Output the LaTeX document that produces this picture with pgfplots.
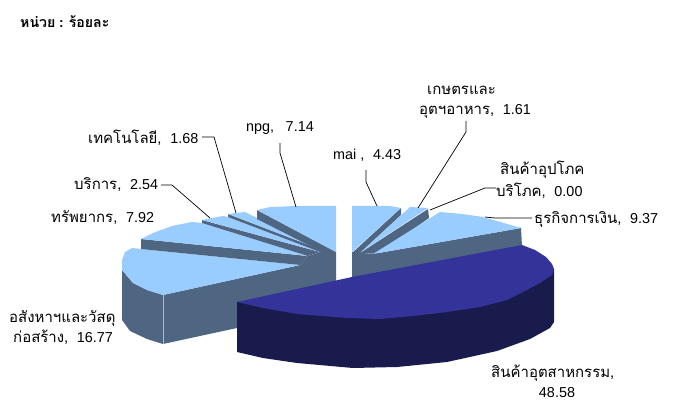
\documentclass[border=0pt]{standalone}
\usepackage{pgfplots}
\pgfplotsset{compat=1.18}
\usepackage{fontspec}
\setmainfont{Liberation Sans}
\newfontfamily\thaifont[Script=Thai,Scale=1.04]{Loma}
\newcommand{\tha}[1]{{\thaifont #1}}
\newcommand{\gap}{\hspace{0.6em}}
\definecolor{lightblue}{HTML}{99CCFF}
\definecolor{wallblue}{HTML}{4F6682}
\definecolor{navytop}{HTML}{333399}
\definecolor{navywall}{HTML}{1A1B4D}
\pgfplotsset{
  top/.style={fill=lightblue,draw=none},
  wall/.style={fill=wallblue,draw=none},
  leader/.style={draw=black,line width=0.7pt},
}
\tikzset{lab/.style={inner sep=0pt,anchor=west,font=\fontsize{14.4}{17}\selectfont}}
\begin{document}
\begin{tikzpicture}
\begin{axis}[
    scale only axis,
    width=683pt, height=406pt,
    xmin=0, xmax=683, ymin=0, ymax=406,
    y dir=reverse,
    hide axis,
    clip=false,
    no markers,
]
% keep the whole canvas in the bounding box
\path (axis cs:0,0) rectangle (axis cs:683,406);
% left block walls
\addplot[wall] coordinates {(122,258) (122,270) (133,283) (147,290) (163,295) (163,344) (147,339) (130,331) (122,320)};
\addplot[wall] coordinates {(163,295) (300,265) (308,256) (320,252) (322,250) (336,252) (336,281) (237,303) (237,328) (163,344)};
\addplot[draw=white!55!wallblue,line width=0.5pt] coordinates {(163,295) (163,344)};
% 16.77
\addplot[top] coordinates {(141,249) (132,248) (125,252) (122,260) (122,270) (133,283) (147,290) (163,295) (300,265)};
% 7.92
\addplot[wall] coordinates {(141,239) (141,249) (300,265) (308,256)};
\addplot[top] coordinates {(141,239) (153,233) (172,226) (192,222) (202,223) (308,256)};
% 2.54
\addplot[wall] coordinates {(202,220) (202,223) (308,256) (320,252)};
\addplot[top] coordinates {(202,220) (212,218) (223,216) (228,217) (320,252)};
% 1.68
\addplot[wall] coordinates {(228,214) (228,217) (320,252) (322,250)};
\addplot[top] coordinates {(228,214) (236,213) (245,212) (322,250)};
% 7.14
\addplot[wall] coordinates {(257,210) (257,219) (328,255) (336,252)};
\addplot[top] coordinates {(257,210) (270,207) (297,206) (336,206) (336,252)};
% right block walls
\addplot[wall] coordinates {(352,252) (352,278) (522,246) (521,228) (373,254)};
\addplot[wall] coordinates {(401,208) (401,215) (360,253) (352,253)};
\addplot[wall] coordinates {(428,209) (429,218) (378,254) (360,253)};
% mai
\addplot[top] coordinates {(352,206) (375,206) (390,206) (401,208) (352,252)};
% 1.61
\addplot[top] coordinates {(410,207) (428,208) (361,252)};
% 9.37
\addplot[top] coordinates {(440,212) (462,214) (483,217) (521,228) (373,254)};
% industry
\addplot[fill=navywall,draw=none] coordinates {(237,302) (237,352) (263,358) (297,363) (353,368) (397,367) (447,362) (497,351) (530,339) (550,328) (554,322) (554,269) (407,300)};
\addplot[fill=navytop,draw=none] coordinates {(237,302) (352,277) (522,245) (535,250) (546,257) (552,264) (554,269) (552,275) (540,283) (525,291) (507,300) (480,307) (447,312) (413,316) (380,319) (347,318) (297,314) (263,308)};
% leader lines
\addplot[leader] coordinates {(202,137) (214,137) (236,213)};
\addplot[leader] coordinates {(161,185) (172,185) (210,218)};
\addplot[leader] coordinates {(280,143) (280,153) (296,207)};
\addplot[leader] coordinates {(366,170) (366,182) (377,206)};
\addplot[leader] coordinates {(466,121) (466,132) (418,208)};
\addplot[leader] coordinates {(430,210) (485,188) (496,188)};
\addplot[leader] coordinates {(485,217) (495,218) (532,218)};
% labels
\node[lab,font=\fontsize{13.6}{16}\selectfont] at (axis cs:20,22) {\tha{\textbf{หน่วย}} \textbf{:} \tha{\textbf{ร้อยละ}}};
\node[lab] at (axis cs:427,90) {\tha{เกษตรและ}};
\node[lab] at (axis cs:419,111) {\tha{อุตฯอาหาร,}\gap 1.61};
\node[lab] at (axis cs:333,155) {mai ,\gap 4.43};
\node[lab] at (axis cs:500,170) {\tha{สินค้าอุปโภค}};
\node[lab] at (axis cs:496,191) {\tha{บริโภค,}\gap 0.00};
\node[lab] at (axis cs:534,219) {\tha{ธุรกิจการเงิน,}\gap 9.37};
\node[lab] at (axis cs:491,373) {\tha{สินค้าอุตสาหกรรม,}};
\node[lab,anchor=center] at (axis cs:557,393) {48.58};
\node[lab] at (axis cs:9,318) {\tha{อสังหาฯและวัสดุ}};
\node[lab] at (axis cs:13,337) {\tha{ก่อสร้าง,}\gap 16.77};
\node[lab] at (axis cs:51,218) {\tha{ทรัพยากร,}\gap 7.92};
\node[lab] at (axis cs:74,185) {\tha{บริการ,}\gap 2.54};
\node[lab] at (axis cs:88,138) {\tha{เทคโนโลยี,}\gap 1.68};
\node[lab] at (axis cs:246,128) {npg,\hspace{0.8em}7.14};
\end{axis}
\end{tikzpicture}
\end{document}
